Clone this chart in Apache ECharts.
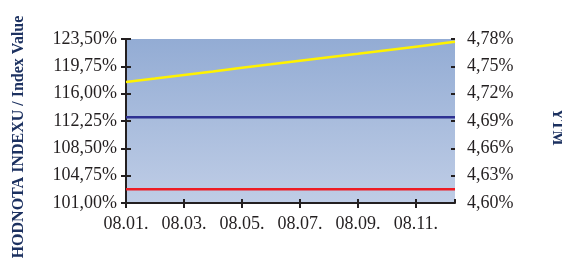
<!DOCTYPE html>
<html>
<head>
<meta charset="utf-8">
<script src="https://cdn.jsdelivr.net/npm/echarts@6/dist/echarts.min.js"></script>
<style>
  html, body { margin: 0; padding: 0; background: #fff; }
  #chart { width: 562px; height: 265px; }
</style>
</head>
<body>
<div id="chart"></div>
<script>
// months since 08.01. (last point ~ mid-December)
var months = [0, 1, 2, 3, 4, 5, 6, 7, 8, 9, 10, 11, 11.35];
var tickLabels = ['08.01.', '08.03.', '08.05.', '08.07.', '08.09.', '08.11.'];

// left axis (index value, %)
var indexValue = [117.60, 118.08, 118.57, 119.05, 119.54, 120.02, 120.51, 121.00, 121.48, 121.97, 122.45, 122.94, 123.11];
var benchmark = [102.9, 102.9, 102.9, 102.9, 102.9, 102.9, 102.9, 102.9, 102.9, 102.9, 102.9, 102.9, 102.9];
// right axis (YTM, %)
var ytm = [4.694, 4.694, 4.694, 4.694, 4.694, 4.694, 4.694, 4.694, 4.694, 4.694, 4.694, 4.694, 4.694];

function pairs(xs, ys) {
  var out = [];
  for (var i = 0; i < xs.length; i++) out.push([xs[i], ys[i]]);
  return out;
}
function pct(v) {
  return v.toFixed(2).replace('.', ',') + '%';
}

var chart = echarts.init(document.getElementById('chart'));
var lineColor = '#231f20';
var labelFont = { fontFamily: 'Liberation Serif', fontSize: 18, color: '#231f20' };

var option = {
  animation: false,
  grid: {
    left: 126, right: 107, top: 39, bottom: 62,
    show: true,
    borderWidth: 0,
    backgroundColor: {
      type: 'linear', x: 0, y: 0, x2: 0, y2: 1,
      colorStops: [{ offset: 0, color: '#93acd4' }, { offset: 1, color: '#bfcde6' }]
    }
  },
  xAxis: [{
    type: 'value', min: 0, max: 11.35, interval: 2,
    axisLine: { show: true, lineStyle: { color: lineColor, width: 2 } },
    axisTick: { show: true, length: 5, lineStyle: { color: lineColor, width: 2 } },
    splitLine: { show: false },
    axisLabel: Object.assign({
      margin: 12,
      showMaxLabel: false,
      formatter: function (v) {
        var i = Math.round(v / 2);
        return (Math.abs(v - i * 2) < 1e-6 && tickLabels[i]) ? tickLabels[i] : '';
      }
    }, labelFont)
  }, {
    type: 'value', min: 0, max: 11.35, interval: 2, position: 'bottom',
    axisLine: { show: false },
    axisTick: { show: true, inside: true, length: 4, lineStyle: { color: lineColor, width: 2 } },
    splitLine: { show: false },
    axisLabel: { show: false }
  }],
  yAxis: [{
    type: 'value', min: 101, max: 123.5, interval: 3.75, position: 'left',
    axisLine: { show: true, lineStyle: { color: lineColor, width: 2 } },
    axisTick: { show: true, length: 5, lineStyle: { color: lineColor, width: 2 } },
    splitLine: { show: false },
    axisLabel: Object.assign({ margin: 9, formatter: pct }, labelFont)
  }, {
    type: 'value', min: 4.60, max: 4.78, interval: 0.03, position: 'right',
    axisLine: { show: true, lineStyle: { color: lineColor, width: 2 } },
    axisTick: { show: true, length: 5, lineStyle: { color: lineColor, width: 2 } },
    splitLine: { show: false },
    axisLabel: Object.assign({ margin: 12, formatter: pct }, labelFont)
  }, {
    type: 'value', min: 101, max: 123.5, interval: 3.75, position: 'left',
    axisLine: { show: false },
    axisTick: { show: true, inside: true, length: 4, lineStyle: { color: lineColor, width: 2 } },
    splitLine: { show: false },
    axisLabel: { show: false }
  }, {
    type: 'value', min: 4.60, max: 4.78, interval: 0.03, position: 'right',
    axisLine: { show: false },
    axisTick: { show: true, inside: true, length: 4, lineStyle: { color: lineColor, width: 2 } },
    splitLine: { show: false },
    axisLabel: { show: false }
  }],
  graphic: [{
    type: 'text', x: 19, y: 137, rotation: Math.PI / 2,
    style: {
      text: 'HODNOTA INDEXU / Index Value',
      fontFamily: 'Liberation Serif', fontSize: 16, fontWeight: 'bold',
      fill: '#1c3160', align: 'center', verticalAlign: 'middle'
    }
  }, {
    type: 'text', x: 557, y: 127, rotation: -Math.PI / 2,
    style: {
      text: 'YTM',
      fontFamily: 'Liberation Serif', fontSize: 16, fontWeight: 'bold',
      fill: '#1c3160', align: 'center', verticalAlign: 'middle'
    }
  }],
  series: [{
    name: 'Index', type: 'line', xAxisIndex: 0, yAxisIndex: 0,
    showSymbol: false, data: pairs(months, indexValue),
    lineStyle: { color: '#fff200', width: 2.5 }
  }, {
    name: 'Benchmark', type: 'line', xAxisIndex: 0, yAxisIndex: 0,
    showSymbol: false, data: pairs(months, benchmark),
    lineStyle: { color: '#ed1c24', width: 2.5 }
  }, {
    name: 'YTM', type: 'line', xAxisIndex: 0, yAxisIndex: 1,
    showSymbol: false, data: pairs(months, ytm),
    lineStyle: { color: '#2e3192', width: 2.5 }
  }]
};

chart.setOption(option);
</script>
</body>
</html>
